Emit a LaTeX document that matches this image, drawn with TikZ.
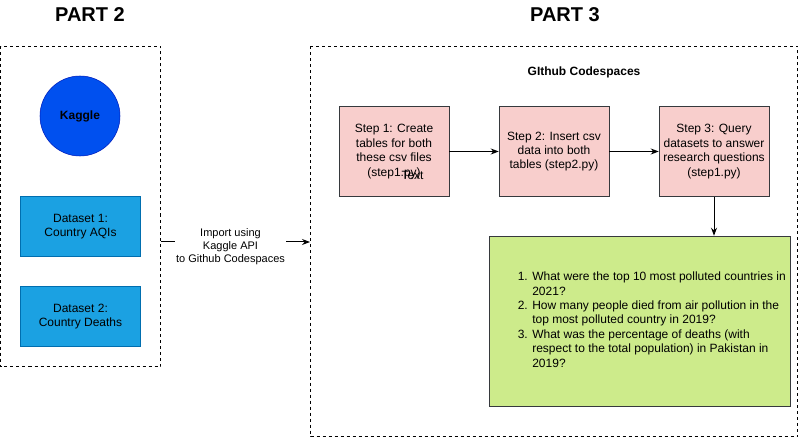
\documentclass[tikz,border=0pt]{standalone}
\usepackage{fontspec}
\setmainfont{Liberation Sans}
\usetikzlibrary{arrows.meta}
\definecolor{stepfill}{HTML}{F8CECC}
\definecolor{darkline}{HTML}{36393D}
\definecolor{kagfill}{HTML}{0050EF}
\definecolor{kagline}{HTML}{001DBC}
\definecolor{dsfill}{HTML}{1BA1E2}
\definecolor{dsline}{HTML}{006EAF}
\definecolor{qfill}{HTML}{CDEB8B}
\tikzset{
  px/.style={x=0.75pt,y=-0.75pt},
  txt/.style={font=\fontsize{9pt}{10.8pt}\selectfont, align=center, inner sep=0pt},
  stepbox/.style={txt, draw=darkline, fill=stepfill, minimum width=82.5pt, minimum height=67.5pt},
  dsbox/.style={txt, draw=dsline, fill=dsfill, minimum width=90pt, minimum height=45pt},
  panel/.style={draw=black, dash pattern=on 2.25pt off 2.25pt, line width=0.75pt},
  title/.style={font=\fontsize{15pt}{18pt}\selectfont\bfseries, inner sep=0pt},
  conn/.style={line width=0.75pt, -{Stealth[length=6pt,width=4.5pt]}},
}
\begin{document}
\begin{tikzpicture}[px]
\useasboundingbox (0,0) rectangle (799,438);
% panels
\draw[panel] (0.5,46.5) rectangle (160.5,366.5);
\node[inner sep=0pt, minimum width=120pt, minimum height=240pt] (p2) at (80.5,206.5) {};
\draw[panel] (310.5,46.5) rectangle (797.5,436.5);
\node[inner sep=0pt, minimum width=365.6pt, minimum height=292.5pt] (p3) at (554,241.5) {};
% titles
\node[title] (t2) at (90,15) {PART 2};
\node[title] (t3) at (565,15) {PART 3};
% part 2
\node[circle, draw=kagline, fill=kagfill, minimum size=60pt, inner sep=0pt, txt, font=\fontsize{9pt}{10.8pt}\selectfont\bfseries] (kag) at (80,116) {Kaggle};
\node[dsbox] (ds1) at (80.5,226.5) {Dataset 1:\\Country AQIs};
\node[dsbox] (ds2) at (80.5,316.5) {Dataset 2:\\Country Deaths};
% import arrow
\coordinate (ay) at (0,242);
\draw[conn] (p2.east |- ay) -- (p3.west |- ay);
\node[fill=white, inner sep=1pt, align=center, font=\fontsize{8.25pt}{9.75pt}\selectfont] (imp) at (230.5,247) {Import using\\Kaggle API\\to Github Codespaces};
% part 3
\node[txt, font=\fontsize{9pt}{10.8pt}\selectfont\bfseries] (gh) at (584,72) {GIthub Codespaces};
\node[stepbox] (s1) at (394,151.5) {Step 1: Create\\tables for both\\these csv files\\(step1.py)};
\node[txt] (stray) at (412.5,175) {Text};
\node[stepbox] (s2) at (554,151.5) {Step 2: Insert csv\\data into both\\tables (step2.py)};
\node[stepbox] (s3) at (714,151.5) {Step 3: Query\\datasets to answer\\research questions\\(step1.py)};
\node[draw=darkline, fill=qfill, minimum width=225.75pt, minimum height=127.5pt, inner sep=0pt] (q) at (639.5,321) {};
\draw[conn] (s1) -- (s2);
\draw[conn] (s2) -- (s3);
\draw[conn] (s3.south) -- (s3.south |- q.north);
\node[anchor=west, inner sep=0pt, font=\fontsize{9pt}{10.8pt}\selectfont] (qs) at (517.5,321) {%
\def\arraystretch{1}\begin{tabular}{@{}r@{\hspace{3.4pt}}l@{}}
1. & What were the top 10 most polluted countries in\\
   & 2021?\\
2. & How many people died from air pollution in the\\
   & top most polluted country in 2019?\\
3. & What was the percentage of deaths (with\\
   & respect to the total population) in Pakistan in\\
   & 2019?
\end{tabular}};
\end{tikzpicture}
\end{document}
